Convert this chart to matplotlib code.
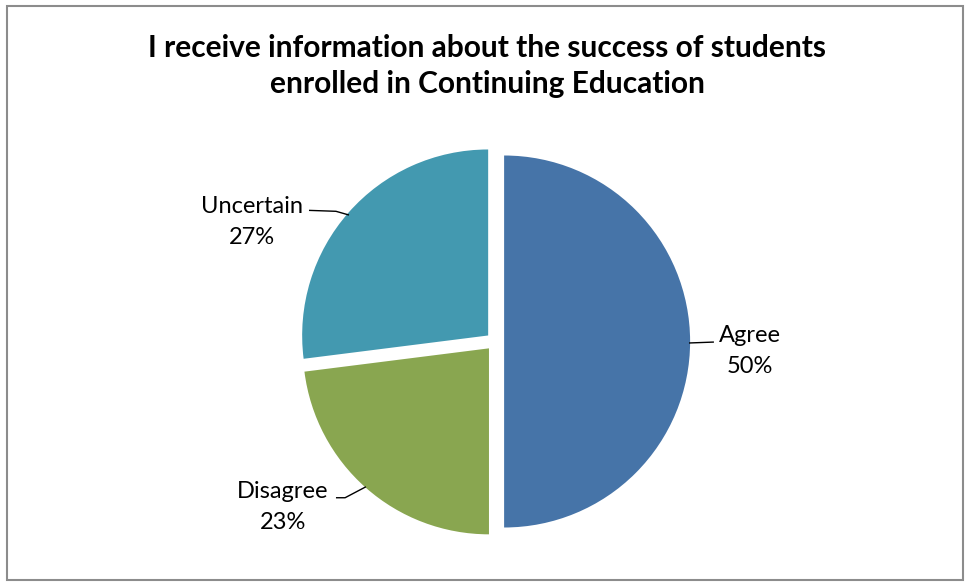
import matplotlib
matplotlib.use("Agg")
import matplotlib.pyplot as plt
from matplotlib.patches import Rectangle
import numpy as np

# Data
categories = ["Agree", "Disagree", "Uncertain"]
values = [50, 23, 27]
pct_labels = ["50%", "23%", "27%"]
colors = ["#4674A8", "#89A650", "#4399B0"]
title = "I receive information about the success of students\nenrolled in Continuing Education"

W, H = 967, 582
fig = plt.figure(figsize=(W / 100, H / 100), dpi=100)
plt.rcParams['font.family'] = ['Lato', 'DejaVu Sans']

# pie geometry (pixels)
cx, cy, R = 495, 341.5, 186
L = 1.25
side = 2 * L * R
ax = fig.add_axes([(cx - side / 2) / W, (H - cy - side / 2) / H, side / W, side / H])
ax.set_xlim(-L, L)
ax.set_ylim(-L, L)
ax.set_aspect('equal')
ax.axis('off')

wedges, _ = ax.pie(values, colors=colors, startangle=90, counterclock=False,
                   explode=[0.049] * len(values), radius=1.0,
                   wedgeprops=dict(linewidth=0))

# label layout: text centre and leader path (data units)
label_pos = {
    "Agree": ((1.371, -0.051), [(1.043, -0.008), (1.177, -0.003)]),
    "Disagree": ((-1.140, -0.890), [(-0.855, -0.840), (-0.806, -0.840), (-0.694, -0.781)]),
    "Uncertain": ((-1.306, 0.642), [(-1.000, 0.705), (-0.855, 0.700), (-0.785, 0.680)]),
}
for cat, pct in zip(categories, pct_labels):
    (tx, ty), path = label_pos[cat]
    ax.text(tx, ty, f"{cat}\n{pct}", ha='center', va='center', fontsize=17,
            linespacing=1.55, color='black')
    xs, ys = zip(*path)
    ax.plot(xs, ys, color='black', lw=1.0, solid_capstyle='butt')

fig.text(487 / W, 1 - 66 / H, title, ha='center', va='center', fontsize=21.5,
         fontweight='bold', linespacing=1.35, color='black')

fig.patches.append(Rectangle((7 / W, 1 - 580 / H), 956 / W, 574 / H,
                             transform=fig.transFigure, fill=False,
                             edgecolor='#8C8C8C', lw=1.5))

fig.savefig("out.png", dpi=100)
